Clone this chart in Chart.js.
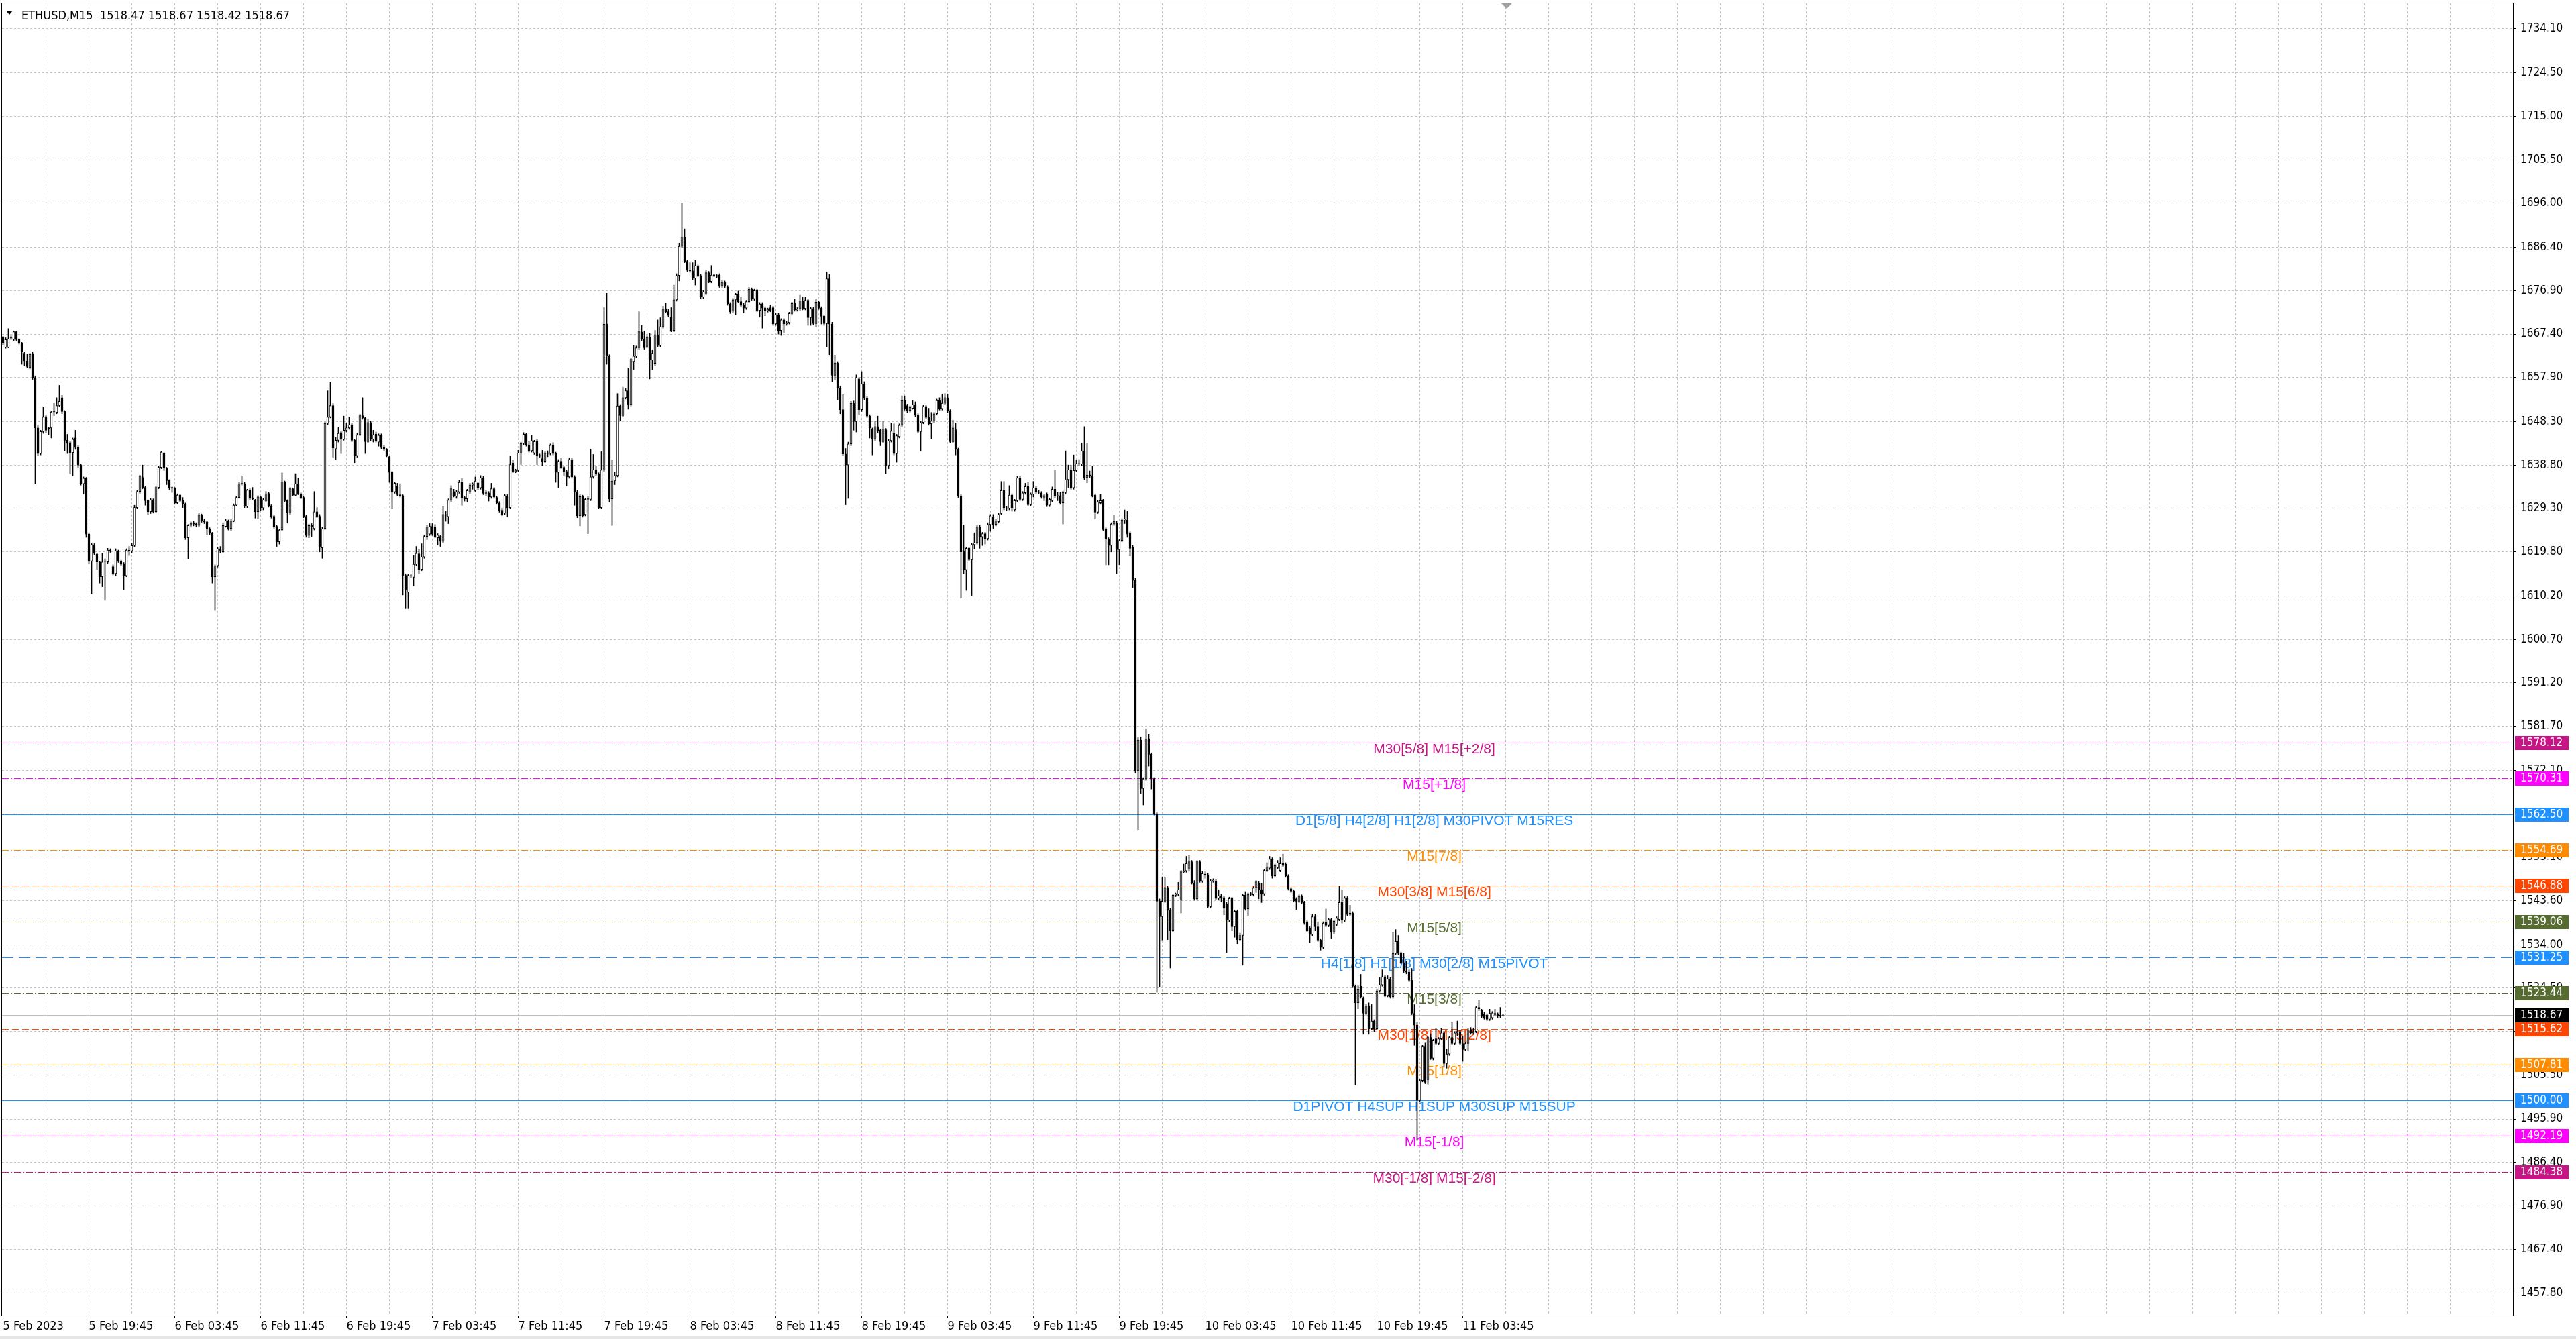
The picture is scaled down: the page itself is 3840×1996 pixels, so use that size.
<!DOCTYPE html>
<html>
<head>
<meta charset="utf-8">
<title>ETHUSD,M15</title>
<script src="https://cdn.jsdelivr.net/npm/chart.js@4.4.1/dist/chart.umd.min.js"></script>
<style>
  html, body { margin: 0; padding: 0; background: #fff; overflow: hidden; }
  canvas { display: block; }
</style>
</head>
<body>
<canvas id="price-chart" width="3840" height="1996" style="width:3840px;height:1996px"></canvas>
<script>
// --- data (M15 bars, 5 Feb 11:45 .. 11 Feb 07:30) ---
const symbolTitle = 'ETHUSD,M15';
const lastQuote = [1518.47, 1518.67, 1518.42, 1518.67];
const bidPrice = 1518.67;

// one label every 32 bars, starting at bar 0
const timeLabels = ['5 Feb 2023', '5 Feb 19:45', '6 Feb 03:45', '6 Feb 11:45', '6 Feb 19:45', '7 Feb 03:45',
  '7 Feb 11:45', '7 Feb 19:45', '8 Feb 03:45', '8 Feb 11:45', '8 Feb 19:45', '9 Feb 03:45', '9 Feb 11:45',
  '9 Feb 19:45', '10 Feb 03:45', '10 Feb 11:45', '10 Feb 19:45', '11 Feb 03:45'];

const priceTicks = [1734.10, 1724.50, 1715.00, 1705.50, 1696.00, 1686.40, 1676.90, 1667.40, 1657.90, 1648.30,
  1638.80, 1629.30, 1619.80, 1610.20, 1600.70, 1591.20, 1581.70, 1572.10, 1562.60, 1553.10, 1543.60, 1534.00,
  1524.50, 1515.00, 1505.50, 1495.90, 1486.40, 1476.90, 1467.40, 1457.80];

const opens = [
  1666.7,1664.5,1664.5,1666.5,1666.2,1667.9,1666.2,1665.4,1663.2,1661.5,
  1660.1,1663.1,1657.9,1646.9,1641.3,1646.1,1649.4,1646.9,1646.9,1650.4,
  1650.3,1651.8,1653.5,1650.5,1644.2,1643.7,1641.5,1644.7,1642.7,1638.8,
  1634.7,1635.9,1623.7,1617.8,1621.2,1619.3,1617.6,1614.4,1617.7,1617.6,
  1620.2,1616.6,1615.1,1620.0,1617.8,1617.3,1614.6,1620.2,1620.0,1621.2,
  1629.5,1633.0,1636.1,1633.9,1631.0,1628.6,1631.2,1628.6,1633.9,1638.3,
  1641.3,1638.1,1635.4,1633.9,1633.7,1630.5,1632.2,1631.0,1630.3,1622.9,
  1625.6,1626.1,1625.9,1625.6,1627.9,1626.6,1626.4,1624.9,1623.9,1614.4,
  1616.8,1620.5,1619.8,1625.4,1626.6,1624.9,1626.6,1630.0,1631.7,1634.7,
  1634.7,1629.8,1633.3,1631.5,1631.0,1628.6,1631.8,1629.4,1631.0,1632.6,
  1629.9,1627.6,1625.4,1622.0,1624.6,1635.1,1631.0,1628.3,1633.6,1632.2,
  1634.7,1632.5,1631.7,1627.6,1623.4,1625.6,1624.9,1628.6,1627.6,1620.7,
  1624.9,1647.9,1649.3,1651.8,1642.3,1644.2,1645.9,1644.4,1646.4,1646.9,
  1647.6,1644.2,1640.8,1645.4,1649.6,1649.1,1643.9,1648.1,1644.4,1645.5,
  1643.8,1645.3,1642.6,1642.2,1640.6,1637.2,1632.9,1634.2,1632.3,1632.1,
  1614.7,1611.0,1614.6,1614.3,1617.1,1619.4,1616.0,1618.7,1623.2,1623.7,
  1625.4,1625.3,1622.9,1623.2,1622.1,1628.0,1627.5,1631.1,1633.0,1632.0,
  1632.9,1635.0,1631.7,1631.4,1632.9,1634.4,1633.2,1634.8,1633.8,1636.0,
  1632.7,1632.7,1631.8,1633.6,1631.7,1630.5,1628.9,1628.3,1632.0,1629.5,
  1639.2,1637.4,1637.6,1641.4,1643.5,1645.5,1643.2,1641.9,1641.4,1644.1,
  1640.9,1640.2,1639.6,1641.4,1641.3,1643.1,1641.3,1637.2,1639.6,1638.3,
  1637.4,1636.2,1640.0,1636.2,1632.9,1627.7,1631.9,1628.0,1631.3,1631.3,
  1636.2,1637.8,1636.8,1629.5,1637.7,1669.6,1662.6,1631.4,1635.3,1636.5,
  1651.7,1649.6,1653.5,1655.0,1652.0,1661.4,1662.6,1664.4,1667.8,1666.3,
  1664.7,1666.7,1661.7,1661.0,1667.2,1664.9,1669.0,1672.9,1672.3,1671.1,
  1668.2,1674.9,1680.2,1686.6,1688.6,1683.3,1681.4,1681.2,1679.6,1682.2,
  1680.2,1675.5,1676.3,1680.8,1678.9,1680.3,1680.2,1680.3,1677.9,1678.7,
  1677.7,1674.0,1672.4,1674.9,1676.0,1674.5,1673.8,1673.1,1674.5,1677.2,
  1675.1,1676.9,1672.6,1674.0,1673.1,1672.5,1673.2,1673.2,1669.6,1671.6,
  1668.2,1670.5,1669.6,1669.9,1671.9,1674.1,1672.7,1672.9,1674.7,1673.0,
  1674.8,1671.0,1673.0,1669.7,1674.4,1673.1,1671.3,1669.7,1679.5,1669.6,
  1658.4,1661.1,1655.6,1650.9,1641.2,1638.8,1643.4,1652.3,1648.3,1657.6,
  1650.9,1656.5,1653.4,1649.5,1646.6,1644.4,1647.2,1646.4,1643.9,1646.5,
  1638.7,1644.1,1645.8,1641.3,1645.0,1647.5,1652.9,1651.8,1650.7,1651.2,
  1652.0,1649.7,1646.1,1648.1,1651.6,1649.2,1647.8,1648.4,1650.0,1652.9,
  1651.1,1652.3,1653.5,1650.6,1643.9,1646.5,1642.2,1632.0,1619.9,1615.9,
  1620.6,1618.1,1621.4,1621.8,1625.3,1623.1,1623.8,1622.7,1625.8,1627.5,
  1625.8,1626.4,1628.2,1633.2,1629.3,1629.3,1632.2,1629.0,1631.0,1636.0,
  1631.3,1632.7,1634.1,1630.1,1632.4,1633.8,1632.9,1632.7,1631.5,1632.4,
  1630.0,1631.0,1633.5,1632.0,1632.0,1630.5,1632.8,1635.6,1637.8,1633.8,
  1637.6,1639.1,1639.0,1641.9,1636.0,1636.6,1636.5,1632.2,1628.5,1630.5,
  1631.0,1624.8,1622.6,1621.2,1625.9,1626.2,1620.3,1622.3,1626.8,1626.8,
  1623.9,1620.9,1613.6,1572.0,1578.7,1568.1,1570.2,1579.0,1575.6,1570.2,
  1562.6,1543.5,1540.1,1543.5,1546.5,1541.5,1537.0,1544.8,1545.0,1543.7,
  1549.9,1550.1,1550.5,1552.1,1547.5,1544.0,1552.1,1547.9,1549.4,1549.3,
  1542.3,1547.9,1547.9,1544.1,1544.7,1544.3,1542.9,1539.3,1544.1,1537.9,
  1541.3,1535.1,1536.0,1544.8,1541.8,1545.0,1544.9,1546.4,1547.5,1546.0,
  1545.1,1550.2,1550.7,1552.7,1549.0,1550.8,1550.2,1551.8,1551.6,1549.0,
  1546.2,1545.7,1544.0,1543.5,1544.6,1543.2,1538.9,1537.6,1536.2,1540.1,
  1537.9,1535.0,1533.4,1538.9,1538.2,1539.5,1536.7,1538.4,1539.5,1543.2,
  1539.3,1544.2,1540.9,1540.9,1524.9,1521.3,1524.9,1522.3,1519.0,1520.6,
  1515.6,1517.3,1515.6,1523.9,1525.2,1527.0,1522.9,1526.5,1522.6,1532.1,
  1534.7,1532.1,1530.1,1528.2,1528.0,1526.2,1519.0,1516.4,1500.0,1504.3,
  1511.8,1504.5,1513.7,1509.2,1513.4,1512.4,1513.4,1514.7,1508.0,1510.1,
  1513.7,1512.4,1514.7,1515.0,1512.4,1511.1,1512.4,1515.4,1514.7,1515.0,
  1520.3,1519.6,1518.9,1518.6,1517.7,1518.0,1519.0,1518.8,1518.6,1518.47
];

const highs = [
  1666.9,1666.6,1668.6,1667.0,1668.1,1668.1,1666.4,1665.6,1663.4,1663.0,
  1663.2,1663.5,1658.3,1647.4,1646.4,1651.5,1649.6,1647.1,1650.6,1652.4,
  1653.5,1656.2,1654.0,1650.7,1645.5,1644.0,1644.7,1646.4,1643.0,1639.0,
  1636.2,1636.1,1624.0,1621.7,1621.6,1619.5,1617.8,1619.5,1618.3,1620.6,
  1620.5,1617.0,1620.5,1620.2,1618.0,1617.5,1620.5,1621.0,1621.7,1630.0,
  1633.3,1636.6,1638.8,1634.1,1631.2,1631.5,1631.4,1634.1,1638.5,1641.8,
  1641.5,1638.3,1635.6,1634.0,1633.9,1632.5,1632.4,1631.7,1630.5,1625.8,
  1626.4,1626.6,1626.2,1628.2,1628.1,1626.9,1626.6,1625.1,1624.1,1617.0,
  1620.8,1621.0,1626.1,1627.0,1626.8,1626.9,1630.3,1632.0,1635.0,1636.4,
  1635.0,1633.5,1633.6,1633.9,1631.3,1632.1,1632.0,1631.5,1633.0,1632.9,
  1630.1,1627.9,1625.6,1624.8,1637.1,1635.3,1631.2,1633.9,1633.8,1636.9,
  1636.0,1632.7,1631.9,1627.8,1625.9,1626.0,1633.0,1629.5,1628.0,1625.2,
  1648.2,1655.0,1656.9,1652.2,1644.8,1647.0,1646.2,1649.5,1648.0,1649.3,
  1648.0,1644.4,1645.8,1649.9,1653.5,1649.3,1648.8,1648.4,1646.4,1646.0,
  1645.6,1645.6,1643.1,1642.4,1640.8,1637.4,1635.0,1634.8,1634.7,1632.3,
  1615.0,1615.0,1615.0,1619.0,1621.0,1620.4,1621.6,1623.5,1625.6,1626.0,
  1626.0,1625.8,1623.8,1623.4,1629.8,1628.7,1631.4,1634.3,1633.5,1633.2,
  1635.5,1635.9,1632.0,1633.5,1634.8,1634.9,1636.2,1635.0,1636.5,1636.3,
  1633.2,1633.0,1634.8,1633.9,1632.0,1630.8,1629.2,1632.4,1632.3,1640.8,
  1639.9,1637.9,1642.0,1643.8,1645.9,1645.8,1644.0,1645.3,1644.2,1644.4,
  1641.2,1642.0,1641.7,1641.9,1643.4,1643.7,1641.6,1640.0,1640.3,1638.6,
  1637.7,1640.4,1640.3,1636.5,1633.2,1632.3,1632.2,1631.6,1632.0,1642.3,
  1641.1,1638.5,1637.1,1641.7,1673.2,1676.3,1662.9,1639.9,1637.2,1654.4,
  1652.0,1655.8,1655.5,1660.0,1662.2,1665.0,1664.8,1672.3,1669.3,1668.1,
  1667.0,1667.5,1664.0,1668.2,1670.5,1671.0,1673.5,1674.1,1672.8,1673.2,
  1678.1,1680.6,1687.3,1696.0,1690.4,1683.6,1683.0,1683.0,1683.5,1682.5,
  1680.5,1677.0,1681.4,1681.1,1682.4,1680.5,1680.5,1680.6,1679.1,1679.0,
  1678.0,1674.3,1675.2,1676.3,1676.8,1675.4,1674.1,1674.8,1677.6,1677.5,
  1677.2,1677.2,1674.3,1674.3,1673.4,1673.1,1673.8,1673.5,1671.9,1672.0,
  1670.8,1670.8,1670.2,1672.2,1674.4,1675.0,1673.2,1675.9,1675.5,1675.5,
  1675.1,1673.3,1673.3,1675.0,1674.7,1673.4,1671.6,1681.0,1680.5,1670.0,
  1662.8,1661.4,1656.0,1654.2,1642.4,1643.8,1652.7,1652.8,1658.5,1657.9,
  1659.2,1657.0,1653.7,1649.8,1646.9,1648.4,1649.5,1646.7,1648.4,1646.8,
  1644.4,1648.0,1647.8,1645.5,1647.8,1653.9,1653.9,1652.1,1651.7,1652.9,
  1652.6,1650.0,1648.4,1651.9,1651.9,1651.2,1650.3,1650.3,1653.2,1653.5,
  1654.3,1654.4,1654.3,1650.9,1648.6,1648.0,1642.5,1632.3,1625.7,1620.9,
  1620.9,1621.7,1624.0,1625.6,1625.6,1624.1,1624.1,1626.2,1628.0,1628.0,
  1627.0,1628.3,1635.2,1635.2,1629.8,1634.3,1632.5,1631.3,1636.3,1636.3,
  1633.0,1634.8,1635.0,1632.7,1635.2,1634.1,1633.2,1633.0,1632.4,1632.7,
  1631.6,1634.0,1637.7,1632.8,1632.9,1633.1,1641.9,1638.8,1638.8,1641.0,
  1639.8,1640.0,1643.6,1647.2,1643.6,1637.5,1638.5,1632.5,1631.0,1632.4,
  1631.3,1625.1,1622.9,1626.2,1627.9,1626.5,1622.6,1627.1,1629.0,1628.7,
  1624.2,1621.2,1614.0,1579.3,1579.3,1570.5,1581.0,1580.0,1575.9,1570.5,
  1562.9,1544.0,1548.8,1548.8,1546.8,1542.0,1545.1,1545.3,1547.6,1550.2,
  1551.6,1553.3,1553.5,1552.4,1548.0,1552.4,1552.4,1550.0,1549.9,1549.6,
  1548.2,1548.4,1548.2,1546.0,1545.0,1544.6,1543.2,1544.4,1544.4,1541.6,
  1541.6,1536.5,1545.1,1545.6,1545.3,1545.4,1546.7,1548.0,1547.8,1547.4,
  1550.5,1551.9,1553.3,1553.0,1551.6,1552.4,1553.0,1553.8,1551.9,1549.3,
  1546.5,1546.0,1544.3,1544.9,1544.9,1543.5,1539.2,1537.9,1540.7,1540.7,
  1539.0,1535.3,1539.0,1541.8,1539.8,1539.8,1539.4,1540.1,1546.8,1546.0,
  1544.5,1544.5,1542.6,1541.2,1525.2,1525.0,1527.5,1522.6,1521.0,1521.3,
  1521.0,1517.6,1524.2,1526.8,1528.5,1527.3,1527.2,1526.8,1536.7,1537.3,
  1536.0,1532.4,1532.1,1530.4,1528.5,1528.8,1520.9,1517.0,1504.6,1512.1,
  1512.5,1514.0,1514.5,1513.3,1515.7,1513.7,1515.7,1515.0,1511.2,1514.0,
  1517.0,1515.0,1517.3,1515.3,1514.0,1512.7,1515.7,1515.9,1515.7,1520.6,
  1521.9,1519.9,1519.2,1518.9,1519.9,1519.4,1519.9,1519.1,1520.3,1518.67
];

const lows = [
  1665.1,1664.3,1664.4,1666.2,1666.0,1666.0,1665.2,1660.8,1660.5,1660.0,
  1659.8,1657.5,1634.7,1640.8,1641.0,1645.7,1645.9,1645.4,1644.7,1649.6,
  1650.0,1651.5,1650.0,1641.8,1641.3,1636.9,1636.4,1642.2,1638.3,1634.4,
  1632.5,1623.0,1617.3,1610.7,1619.2,1616.0,1613.0,1612.2,1609.2,1617.3,
  1619.7,1614.8,1614.6,1617.5,1616.8,1611.5,1614.4,1619.0,1619.6,1621.0,
  1629.2,1632.6,1633.6,1630.0,1628.0,1628.2,1628.3,1628.4,1633.6,1638.0,
  1637.6,1634.5,1633.4,1632.8,1630.2,1630.3,1630.8,1629.5,1622.5,1618.3,
  1625.2,1625.5,1625.3,1625.3,1626.3,1626.0,1623.6,1623.5,1613.0,1607.0,
  1616.5,1619.6,1619.6,1625.2,1624.6,1624.5,1626.4,1629.8,1631.5,1634.4,
  1629.5,1629.5,1631.2,1631.2,1627.2,1627.0,1628.8,1629.0,1630.7,1629.6,
  1627.2,1625.0,1621.0,1621.5,1624.4,1630.7,1626.1,1628.0,1632.0,1632.0,
  1632.3,1631.4,1627.3,1623.0,1622.9,1623.2,1624.6,1627.3,1619.8,1618.4,
  1624.7,1647.6,1649.1,1640.5,1640.0,1643.8,1641.3,1644.2,1646.0,1646.6,
  1643.9,1639.3,1640.5,1645.2,1648.8,1641.3,1643.6,1644.0,1643.8,1643.8,
  1642.9,1642.3,1641.9,1640.6,1635.0,1629.2,1632.6,1632.0,1631.8,1610.4,
  1607.4,1607.4,1614.2,1612.4,1616.8,1615.0,1615.7,1618.4,1622.5,1623.4,
  1623.4,1622.9,1621.3,1621.0,1621.8,1626.5,1626.0,1630.8,1631.8,1631.5,
  1632.6,1630.0,1630.9,1630.8,1632.5,1633.5,1632.9,1633.4,1633.5,1632.3,
  1632.0,1630.9,1631.5,1631.5,1630.2,1628.5,1627.7,1628.0,1627.5,1629.2,
  1637.1,1637.1,1637.3,1638.9,1643.2,1642.9,1641.6,1641.6,1641.1,1638.9,
  1640.5,1638.6,1639.3,1640.6,1641.0,1641.0,1635.0,1633.8,1638.0,1636.5,
  1634.2,1635.9,1635.9,1630.0,1627.3,1625.5,1627.4,1627.7,1623.8,1631.0,
  1635.9,1636.5,1629.2,1629.2,1637.4,1660.8,1630.7,1625.6,1634.5,1636.2,
  1648.4,1649.3,1653.2,1651.0,1651.7,1659.6,1662.3,1664.1,1666.0,1664.1,
  1664.4,1657.6,1659.6,1660.5,1664.6,1664.6,1668.7,1672.0,1671.2,1667.9,
  1667.9,1674.6,1679.0,1686.3,1683.0,1681.1,1680.9,1679.3,1678.1,1679.9,
  1675.2,1675.2,1676.0,1678.6,1678.6,1679.9,1679.7,1677.6,1677.6,1677.5,
  1673.7,1671.9,1672.1,1671.7,1674.2,1673.4,1672.0,1672.8,1674.2,1674.8,
  1674.8,1672.3,1671.1,1668.7,1671.4,1672.2,1672.3,1669.3,1669.3,1667.4,
  1667.1,1667.7,1669.3,1669.6,1671.6,1672.4,1672.4,1672.6,1672.7,1672.7,
  1669.3,1669.3,1669.4,1668.9,1672.8,1669.6,1669.3,1664.6,1662.9,1657.0,
  1657.4,1653.1,1650.0,1640.8,1630.1,1631.5,1643.0,1646.4,1646.0,1649.8,
  1650.5,1653.0,1649.2,1644.7,1641.0,1644.1,1645.9,1643.0,1643.6,1636.9,
  1638.0,1643.8,1641.0,1639.4,1644.7,1647.2,1650.8,1650.3,1650.4,1651.0,
  1649.4,1645.8,1641.9,1647.8,1648.9,1647.5,1644.5,1648.1,1649.7,1650.8,
  1650.8,1652.0,1650.3,1643.6,1643.6,1641.0,1631.7,1609.7,1615.0,1611.4,
  1617.8,1610.3,1620.4,1621.5,1620.6,1621.2,1621.5,1622.4,1624.3,1624.9,
  1625.5,1626.1,1627.9,1629.0,1628.8,1629.0,1628.7,1628.7,1630.7,1631.0,
  1631.0,1632.4,1629.8,1629.8,1631.8,1632.6,1632.5,1631.5,1631.0,1629.7,
  1629.7,1630.7,1631.7,1631.0,1630.2,1625.9,1632.5,1633.8,1633.5,1633.5,
  1637.3,1638.6,1638.7,1635.6,1634.9,1636.0,1631.8,1627.0,1628.2,1630.2,
  1624.4,1617.0,1617.0,1619.8,1625.6,1615.0,1617.0,1622.0,1626.0,1623.0,
  1618.9,1612.0,1571.5,1559.1,1567.0,1564.5,1569.9,1573.0,1568.0,1562.3,
  1523.6,1524.7,1535.0,1543.2,1535.1,1528.9,1536.7,1544.5,1544.7,1540.9,
  1549.6,1549.8,1550.0,1547.2,1543.7,1543.7,1547.6,1547.6,1548.5,1542.0,
  1542.0,1547.6,1543.8,1543.8,1543.3,1540.5,1532.3,1539.0,1537.0,1535.6,
  1534.2,1534.8,1529.5,1541.5,1540.4,1544.7,1544.6,1545.4,1544.0,1543.2,
  1544.8,1549.9,1550.4,1548.5,1548.7,1550.5,1549.9,1551.0,1548.7,1545.9,
  1545.4,1543.3,1541.7,1543.2,1542.9,1538.4,1536.7,1534.5,1535.9,1537.0,
  1534.7,1532.8,1533.1,1537.9,1537.9,1535.3,1536.4,1538.1,1539.2,1538.7,
  1539.0,1540.3,1540.3,1524.6,1503.3,1520.0,1522.3,1514.4,1518.7,1514.4,
  1515.3,1515.0,1515.3,1523.6,1524.9,1522.6,1522.6,1522.3,1522.3,1531.8,
  1531.8,1529.8,1527.9,1527.6,1525.9,1518.7,1512.0,1491.2,1499.7,1504.0,
  1503.6,1503.5,1508.9,1508.8,1512.1,1512.1,1513.1,1507.2,1507.0,1509.8,
  1512.1,1512.1,1514.1,1512.1,1508.5,1510.8,1510.8,1514.4,1514.4,1514.7,
  1519.6,1518.0,1517.7,1517.4,1517.4,1517.7,1518.4,1518.1,1518.1,1518.42
];

const closes = [
  1665.4,1666.2,1666.4,1666.7,1667.9,1666.2,1665.4,1663.5,1661.5,1660.3,
  1663.0,1657.9,1646.9,1641.3,1646.1,1649.3,1646.4,1646.6,1650.4,1650.4,
  1651.8,1652.7,1650.5,1644.2,1643.7,1641.5,1644.4,1642.7,1638.8,1634.7,
  1635.9,1623.7,1617.8,1621.4,1619.5,1617.6,1614.4,1617.6,1617.7,1620.2,
  1620.0,1615.1,1620.0,1617.8,1617.1,1614.6,1620.2,1620.0,1621.2,1629.5,
  1633.0,1636.4,1633.9,1631.0,1628.6,1631.2,1628.6,1633.9,1638.3,1641.6,
  1638.1,1635.4,1633.9,1633.7,1630.5,1632.2,1631.0,1630.3,1622.9,1625.6,
  1626.1,1625.9,1625.8,1627.9,1626.6,1626.4,1624.9,1623.9,1614.4,1616.8,
  1620.5,1620.0,1625.6,1626.6,1624.9,1626.6,1630.0,1631.7,1634.7,1634.8,
  1629.8,1633.3,1631.5,1631.4,1628.6,1631.8,1629.4,1631.2,1632.5,1629.9,
  1627.6,1625.4,1622.0,1624.6,1635.1,1631.0,1628.3,1633.6,1632.2,1634.7,
  1632.5,1631.7,1627.6,1623.4,1625.6,1625.3,1628.6,1627.6,1621.0,1624.9,
  1647.9,1649.3,1651.8,1642.5,1644.2,1645.7,1644.4,1646.4,1646.9,1647.6,
  1644.2,1640.8,1645.4,1649.6,1649.1,1643.9,1648.1,1644.4,1645.4,1644.1,
  1645.3,1642.6,1642.2,1640.9,1637.2,1632.9,1634.8,1632.3,1632.1,1614.7,
  1611.6,1614.7,1614.5,1617.1,1619.5,1616.0,1618.7,1623.2,1625.3,1625.4,
  1623.7,1623.2,1623.5,1622.1,1628.0,1627.8,1631.1,1633.6,1632.0,1632.9,
  1635.0,1631.7,1631.4,1633.2,1634.4,1634.6,1635.3,1633.8,1636.0,1632.6,
  1632.6,1631.8,1633.6,1631.8,1630.5,1628.9,1628.0,1632.1,1629.5,1638.9,
  1637.4,1637.6,1641.4,1643.5,1645.5,1643.2,1641.9,1644.1,1643.9,1640.9,
  1640.7,1639.6,1641.4,1641.3,1643.1,1641.3,1637.2,1639.6,1638.3,1637.4,
  1636.2,1640.0,1636.2,1632.9,1627.7,1631.9,1627.7,1631.3,1631.4,1636.2,
  1637.8,1636.8,1629.5,1637.7,1669.6,1662.6,1631.4,1635.3,1636.5,1651.7,
  1649.6,1653.5,1655.0,1652.0,1661.9,1662.6,1664.4,1668.0,1666.3,1664.4,
  1666.7,1661.7,1663.2,1667.2,1664.9,1669.0,1672.9,1672.3,1671.5,1668.2,
  1674.9,1680.2,1686.6,1688.6,1683.3,1681.4,1681.2,1679.6,1682.4,1680.2,
  1675.5,1676.6,1680.8,1678.9,1680.3,1680.2,1680.0,1677.9,1678.7,1677.8,
  1674.0,1672.3,1674.9,1676.0,1674.5,1673.7,1673.1,1674.5,1677.2,1675.1,
  1676.9,1672.6,1674.0,1673.1,1672.5,1672.8,1672.6,1669.6,1671.6,1668.2,
  1670.5,1669.6,1669.9,1671.9,1674.1,1672.7,1672.9,1674.7,1673.0,1674.8,
  1671.0,1673.0,1669.7,1674.4,1673.1,1671.3,1669.7,1679.5,1669.6,1658.4,
  1661.1,1655.6,1650.9,1641.2,1638.8,1643.4,1652.3,1648.3,1657.9,1650.9,
  1656.5,1653.4,1649.5,1646.9,1644.4,1647.2,1646.2,1643.9,1646.7,1638.7,
  1644.1,1646.2,1641.3,1645.2,1647.5,1652.9,1651.1,1650.6,1651.4,1652.0,
  1649.7,1646.1,1648.1,1651.6,1649.2,1647.8,1648.4,1650.0,1652.9,1651.1,
  1652.3,1653.5,1650.6,1643.9,1646.9,1642.2,1632.0,1619.8,1615.9,1620.6,
  1618.1,1621.4,1621.8,1625.3,1623.1,1623.8,1622.7,1625.8,1627.7,1625.8,
  1626.6,1628.0,1633.2,1629.3,1629.4,1632.2,1629.3,1631.0,1636.0,1631.3,
  1632.7,1634.1,1630.1,1632.4,1633.8,1632.9,1632.8,1631.8,1632.1,1630.0,
  1631.3,1633.5,1632.0,1632.1,1630.5,1632.8,1635.6,1637.8,1633.8,1637.6,
  1639.1,1639.0,1641.9,1635.9,1636.6,1636.5,1632.1,1628.5,1630.7,1631.0,
  1624.7,1622.6,1621.2,1625.9,1626.5,1620.3,1622.3,1626.8,1627.0,1623.7,
  1620.6,1613.6,1572.0,1578.7,1568.1,1570.2,1579.0,1575.6,1570.2,1562.6,
  1543.5,1540.1,1543.5,1546.5,1541.5,1537.0,1544.8,1545.0,1546.0,1549.9,
  1550.1,1551.7,1552.1,1547.5,1544.0,1552.1,1547.9,1549.5,1549.2,1542.3,
  1547.9,1548.0,1544.1,1544.7,1544.3,1542.0,1539.3,1544.1,1537.9,1541.3,
  1535.1,1536.0,1544.8,1541.8,1545.0,1545.2,1546.4,1547.7,1546.0,1545.1,
  1550.2,1551.0,1552.7,1549.0,1551.3,1551.9,1551.7,1551.3,1549.0,1546.2,
  1545.7,1543.6,1543.5,1544.6,1543.2,1538.7,1537.0,1536.2,1540.1,1537.9,
  1535.0,1533.4,1538.7,1538.2,1539.5,1536.7,1539.1,1539.8,1543.2,1539.3,
  1544.2,1540.6,1540.6,1524.9,1521.3,1524.2,1522.6,1519.0,1520.6,1515.6,
  1517.3,1515.6,1523.9,1525.2,1527.0,1522.9,1526.5,1522.6,1532.1,1534.7,
  1532.1,1530.1,1528.2,1528.0,1526.2,1519.0,1516.4,1500.0,1504.3,1511.8,
  1503.9,1513.7,1509.2,1513.0,1512.4,1513.4,1514.7,1508.0,1510.1,1513.7,
  1512.4,1514.7,1515.0,1512.4,1511.1,1512.4,1515.4,1514.7,1515.0,1520.3,
  1520.0,1518.3,1518.0,1517.7,1519.0,1519.1,1518.7,1518.4,1518.4,1518.67
];

// Murrey-style levels drawn by the indicator
const levelPrices = [1578.12, 1570.31, 1562.50, 1554.69, 1546.88, 1539.06, 1531.25, 1523.44, 1515.62, 1507.81,
  1500.00, 1492.19, 1484.38];
const levelNames = ['M30[5/8] M15[+2/8]', 'M15[+1/8]', 'D1[5/8] H4[2/8] H1[2/8] M30PIVOT M15RES', 'M15[7/8]',
  'M30[3/8] M15[6/8]', 'M15[5/8]', 'H4[1/8] H1[1/8] M30[2/8] M15PIVOT', 'M15[3/8]', 'M30[1/8] M15[2/8]',
  'M15[1/8]', 'D1PIVOT H4SUP H1SUP M30SUP M15SUP', 'M15[-1/8]', 'M30[-1/8] M15[-2/8]'];

// --- styles ---
const VIOLET = '#C71585', MAGENTA = '#FF00FF', BLUE = '#1E90FF', ORANGE = '#FF8C00', RED = '#FF4500', OLIVE = '#556B2F';
const DASHDOT = [10, 3, 2, 3], DASH = [10, 5], LONGDASH = [17, 8], SOLID = [];
const levelColors = [VIOLET, MAGENTA, BLUE, ORANGE, RED, OLIVE, BLUE, OLIVE, RED, ORANGE, BLUE, MAGENTA, VIOLET];
const levelDashes = [DASHDOT, DASHDOT, SOLID, DASHDOT, DASH, DASHDOT, LONGDASH, DASHDOT, DASH, DASHDOT, SOLID, DASHDOT, DASHDOT];
const GRID = '#C0C0C0';
const AXIS_FONT = "'DejaVu Sans Condensed', 'DejaVu Sans', sans-serif";
const LABEL_BAR = 533.4; // where the level captions are centred

const BARS_PER_LABEL = 32;
const BARS_PER_GRID = 16;
const X_MIN = -0.375, X_MAX = 935.375; // 4 px per bar

function buildGridTicks() {
  const ticks = [{ value: 0 }];
  for (let v = BARS_PER_GRID; v <= X_MAX; v += BARS_PER_GRID) ticks.push({ value: v });
  return ticks;
}

function labelForBar(v) {
  if (v % BARS_PER_LABEL !== 0) return '';
  return timeLabels[v / BARS_PER_LABEL] || '';
}

// the axes must not push the plot area in from the edges
function noEdgePadding(s) {
  s.paddingTop = 0;
  s.paddingBottom = 0;
  s.paddingLeft = 0;
  s.paddingRight = 0;
}

const mt4Overlay = {
  id: 'mt4Overlay',
  beforeDraw(chart) {
    const { ctx, width, height } = chart;
    ctx.save();
    ctx.fillStyle = '#fff';
    ctx.fillRect(0, 0, width, height);
    ctx.restore();
  },
  beforeDatasetsDraw(chart) {
    const { ctx, chartArea: a, scales: { x, y } } = chart;
    ctx.save();
    ctx.beginPath();
    ctx.rect(a.left, a.top, a.right - a.left, a.bottom - a.top);
    ctx.clip();
    ctx.lineWidth = 1;

    // bid line
    const by = Math.round(y.getPixelForValue(bidPrice)) + 0.5;
    ctx.strokeStyle = '#C0C0C0';
    ctx.setLineDash([]);
    ctx.beginPath(); ctx.moveTo(a.left, by); ctx.lineTo(a.right, by); ctx.stroke();

    levelPrices.forEach((p, i) => {
      const py = Math.round(y.getPixelForValue(p)) + 0.5;
      ctx.strokeStyle = levelColors[i];
      ctx.setLineDash(levelDashes[i]);
      ctx.beginPath(); ctx.moveTo(a.left, py); ctx.lineTo(a.right, py); ctx.stroke();
    });

    ctx.setLineDash([]);
    ctx.font = "21px 'Liberation Sans', Arial, sans-serif";
    ctx.textAlign = 'center';
    ctx.textBaseline = 'alphabetic';
    const lx = x.getPixelForValue(LABEL_BAR);
    levelNames.forEach((name, i) => {
      ctx.fillStyle = levelColors[i];
      ctx.fillText(name, lx, y.getPixelForValue(levelPrices[i]) + 16);
    });
    ctx.restore();
  },
  afterDraw(chart) {
    const { ctx, chartArea: a, scales: { y } } = chart;
    ctx.save();

    // frame
    ctx.strokeStyle = '#000';
    ctx.lineWidth = 1;
    ctx.strokeRect(a.left - 0.5, a.top - 0.5, a.right - a.left + 1, a.bottom - a.top + 1);

    // chart-shift marker
    ctx.fillStyle = '#A0A0A0';
    ctx.beginPath();
    ctx.moveTo(2238, a.top); ctx.lineTo(2254, a.top); ctx.lineTo(2246, a.top + 8);
    ctx.closePath(); ctx.fill();

    // price boxes on the axis
    ctx.font = '17px ' + AXIS_FONT;
    ctx.textAlign = 'left';
    ctx.textBaseline = 'middle';
    const boxes = levelPrices.map((p, i) => ({ p, c: levelColors[i] }));
    boxes.push({ p: bidPrice, c: '#000' });
    boxes.forEach(b => {
      const cy = Math.round(y.getPixelForValue(b.p));
      ctx.fillStyle = b.c;
      ctx.fillRect(a.right + 3, cy - 10, 80, 21);
      ctx.fillStyle = '#fff';
      ctx.fillText(b.p.toFixed(2), a.right + 11, cy + 1);
    });

    // header
    ctx.fillStyle = '#000';
    ctx.beginPath();
    ctx.moveTo(9, 16); ctx.lineTo(19, 16); ctx.lineTo(14, 22);
    ctx.closePath(); ctx.fill();
    ctx.font = '18px ' + AXIS_FONT;
    ctx.textBaseline = 'alphabetic';
    ctx.fillText(symbolTitle + '  ' + lastQuote.map(v => v.toFixed(2)).join(' '), 32, 29);

    // window edge under the time scale
    ctx.fillStyle = '#E6E6E6';
    ctx.fillRect(0, chart.height - 4, chart.width, 4);
    ctx.restore();
  }
};

function renderChart() {
  const bodies = closes.map((c, i) => ({ x: i, y: [opens[i], c] }));
  const wicks = closes.map((c, i) => ({
    x: i,
    y: [Math.min(lows[i], opens[i], c), Math.max(highs[i], opens[i], c)]
  }));

  const ctx = document.getElementById('price-chart').getContext('2d');
  return new Chart(ctx, {
    type: 'bar',
    data: {
      datasets: [
        {
          label: 'body',
          data: bodies,
          grouped: false,
          barThickness: 3,
          minBarLength: 1,
          backgroundColor: (c) => (closes[c.dataIndex] >= opens[c.dataIndex] ? '#fff' : '#000'),
          borderColor: '#000',
          borderWidth: 1,
          borderSkipped: false,
          order: 0
        },
        {
          label: 'wick',
          data: wicks,
          grouped: false,
          barThickness: 1,
          backgroundColor: '#000',
          borderWidth: 0,
          order: 1
        }
      ]
    },
    options: {
      animation: false,
      responsive: false,
      maintainAspectRatio: false,
      devicePixelRatio: 1,
      layout: { padding: { left: 3, top: 5, right: 0, bottom: 0 } },
      plugins: { legend: { display: false }, tooltip: { enabled: false } },
      scales: {
        x: {
          type: 'linear',
          min: X_MIN,
          max: X_MAX,
          offset: false,
          afterBuildTicks: (s) => { s.ticks = buildGridTicks(); },
          afterFit: (s) => { s.height = 35; noEdgePadding(s); },
          ticks: {
            autoSkip: false,
            maxRotation: 0,
            minRotation: 0,
            align: 'start',
            padding: 2,
            color: '#000',
            font: { family: AXIS_FONT, size: 18 },
            callback: (v) => labelForBar(v)
          },
          grid: {
            offset: false,
            color: (c) => (c.tick && c.tick.value === 0 ? 'rgba(0,0,0,0)' : GRID),
            lineWidth: 1,
            tickLength: 4,
            tickColor: (c) => (c.tick && labelForBar(c.tick.value) ? '#000' : 'rgba(0,0,0,0)')
          },
          border: { display: false, dash: [3, 3] }
        },
        y: {
          type: 'linear',
          position: 'right',
          min: 1452.96,
          max: 1739.67,
          afterBuildTicks: (s) => { s.ticks = priceTicks.map(v => ({ value: v })); },
          afterFit: (s) => { s.width = 94; noEdgePadding(s); },
          ticks: {
            autoSkip: false,
            padding: 7,
            color: '#000',
            font: { family: AXIS_FONT, size: 17 },
            callback: (v) => Number(v).toFixed(2)
          },
          grid: { color: GRID, lineWidth: 1, tickLength: 4, tickColor: '#000' },
          border: { display: false, dash: [3, 3] }
        }
      }
    },
    plugins: [mt4Overlay]
  });
}

renderChart();
</script>
</body>
</html>
